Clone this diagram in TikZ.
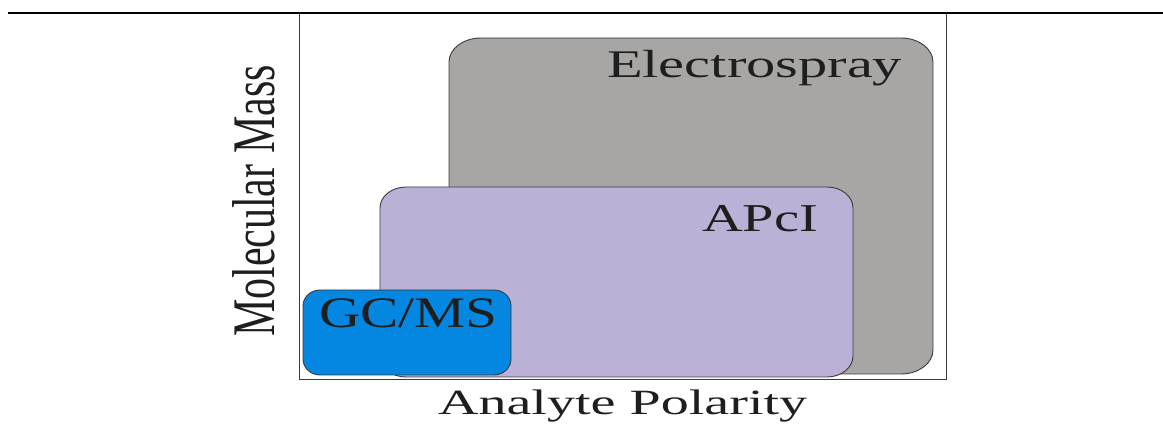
\documentclass[tikz,border=0pt]{standalone}
\usepackage{fontspec}
\setmainfont{Liberation Serif}
\usepackage{graphicx}

\definecolor{esgray}{HTML}{A7A6A4}
\definecolor{apcilav}{HTML}{BBB1D7}
\definecolor{gcblue}{HTML}{0487E0}
\definecolor{edge}{HTML}{3A3A3A}
\definecolor{ink}{HTML}{1E1E1E}

% rounded box with elliptical corners:
% #1 style, (#2,#3) lower left, (#4,#5) upper right, #6/#7 corner radii
\newcommand\ovalbox[7]{%
  \path[#1] (#2+#6,#3) -- (#4-#6,#3)
    arc[start angle=-90,end angle=0,x radius=#6,y radius=#7]
    -- (#4,#5-#7)
    arc[start angle=0,end angle=90,x radius=#6,y radius=#7]
    -- (#2+#6,#5)
    arc[start angle=90,end angle=180,x radius=#6,y radius=#7]
    -- (#2,#3+#7)
    arc[start angle=180,end angle=270,x radius=#6,y radius=#7]
    -- cycle;}

% wide serif label: #1 font size, #2 horizontal stretch, #3 text
\newcommand\widelabel[3]{\scalebox{#2}[1]{\fontsize{#1}{#1}\selectfont #3}}

\begin{document}
\begin{tikzpicture}[x=1pt,y=1pt,
  region/.style={draw=edge,line width=0.9pt},
  lbl/.style={inner sep=0pt,outer sep=0pt,text=ink,anchor=base west}]
\useasboundingbox (0,0) rectangle (1163,428);

% plot frame
\draw[edge,line width=1pt] (299,48) rectangle (946,415);

% ionisation regions
\ovalbox{region,fill=esgray}{449}{54}{933}{390}{32}{24}
\ovalbox{region,fill=apcilav}{380}{51}{853}{241}{26}{21}
\ovalbox{region,fill=gcblue}{303}{53}{511}{138}{17}{16}

% rule across the top
\draw[black,line width=2.4pt] (8,415) -- (1163,415);

% region labels
\node[lbl] (es) at (607,350) {\widelabel{39.2}{1.49}{Electrospray}};
\node[lbl] (apci) at (702,196) {\widelabel{39.5}{1.43}{APcI}};
\node[lbl] (gcms) at (319,100) {\widelabel{43.5}{1.32}{GC/MS}};

% axis titles
\node[lbl] (xlab) at (438,13) {\widelabel{35.5}{1.58}{Analyte Polarity}};
\node[inner sep=0pt,outer sep=0pt,text=ink,anchor=south east] (ylab) at (275,91)
  {\scalebox{1.44}[1]{\rotatebox{90}{\fontsize{42}{42}\selectfont Molecular Mass}}};
\end{tikzpicture}
\end{document}
